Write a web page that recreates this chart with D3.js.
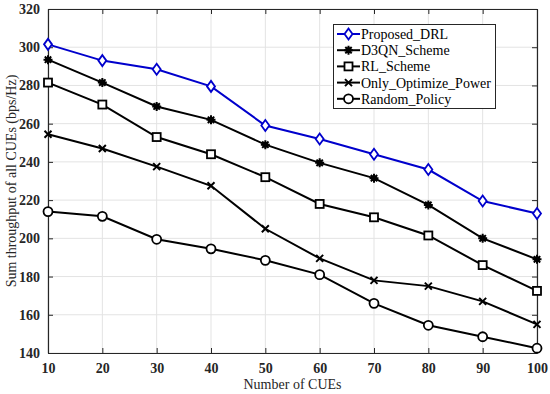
<!DOCTYPE html>
<html>
<head>
<meta charset="utf-8">
<script src="https://cdnjs.cloudflare.com/ajax/libs/d3/7.8.5/d3.min.js"></script>
<style>
  body { margin: 0; background: #fff; }
  svg text { font-family: "Liberation Serif", "Times New Roman", serif; }
</style>
</head>
<body>
<script>
var width = 550, height = 394;
var margin = {top: 9, right: 13, bottom: 41, left: 48};

var cues = [10, 20, 30, 40, 50, 60, 70, 80, 90, 100];
var proposed = [301.5, 293, 288.5, 279.5, 259, 252, 244, 236, 219.5, 213];
var d3qn = [293.5, 281.5, 269, 262, 249, 239.5, 231.5, 217.5, 200, 189];
var rl = [281.5, 270, 253, 244, 232, 218, 211, 201.5, 186, 172.5];
var onlyPower = [254.5, 247, 237.5, 227.5, 205, 189.5, 178, 175, 167, 155];
var randomPolicy = [214, 211.5, 199.5, 194.5, 188.5, 181, 166, 154.5, 148.5, 142.5];
var yTicks = [140, 160, 180, 200, 220, 240, 260, 280, 300, 320];

var series = [
  {name: "Proposed_DRL", values: proposed, color: "#0000cc", marker: "diamond"},
  {name: "D3QN_Scheme", values: d3qn, color: "#000", marker: "star"},
  {name: "RL_Scheme", values: rl, color: "#000", marker: "square"},
  {name: "Only_Optimize_Power", values: onlyPower, color: "#000", marker: "cross"},
  {name: "Random_Policy", values: randomPolicy, color: "#000", marker: "circle"}
];

var svg = d3.select("body").append("svg")
    .attr("width", width)
    .attr("height", height);

var x = d3.scaleLinear().domain([10, 100]).range([margin.left, width - margin.right]);
var y = d3.scaleLinear().domain([140, 320]).range([height - margin.bottom, margin.top]);

var x0 = margin.left, x1 = width - margin.right, y0 = height - margin.bottom, y1 = margin.top;

// grid
var grid = svg.append("g").attr("stroke", "#e3e3e3").attr("stroke-width", 1);
cues.forEach(function(v) {
  grid.append("line").attr("x1", x(v)).attr("x2", x(v)).attr("y1", y0).attr("y2", y1);
});
yTicks.forEach(function(v) {
  grid.append("line").attr("x1", x0).attr("x2", x1).attr("y1", y(v)).attr("y2", y(v));
});

// axes
var xAxis = svg.append("g").attr("transform", "translate(0," + y0 + ")")
    .call(d3.axisBottom(x).tickValues(cues).tickSizeInner(-5).tickSizeOuter(0).tickPadding(10));
var yAxis = svg.append("g").attr("transform", "translate(" + x0 + ",0)")
    .call(d3.axisLeft(y).tickValues(yTicks).tickSizeInner(-5).tickSizeOuter(0).tickPadding(8));
var xTop = svg.append("g").attr("transform", "translate(0," + y1 + ")")
    .call(d3.axisTop(x).tickValues(cues).tickSizeInner(-5).tickSizeOuter(0).tickFormat(""));
var yRight = svg.append("g").attr("transform", "translate(" + x1 + ",0)")
    .call(d3.axisRight(y).tickValues(yTicks).tickSizeInner(-5).tickSizeOuter(0).tickFormat(""));

[xAxis, yAxis, xTop, yRight].forEach(function(a) {
  a.select(".domain").attr("stroke", "#262626").attr("stroke-width", 1.2);
  a.selectAll(".tick line").attr("stroke", "#262626");
  a.selectAll(".tick text").attr("font-family", "Liberation Serif").attr("font-size", 14)
    .attr("font-weight", "bold").attr("fill", "#262626");
});

// lines
var line = d3.line().x(function(d, i) { return x(cues[i]); }).y(function(d) { return y(d); });

function drawMarker(g, type, cx, cy, color) {
  if (type == "diamond") {
    g.append("path").attr("d", "M" + cx + "," + (cy - 5.5) + "L" + (cx + 4) + "," + cy + "L" + cx + "," + (cy + 5.5) + "L" + (cx - 4) + "," + cy + "Z")
      .attr("fill", "#fff").attr("stroke", color).attr("stroke-width", 1.8);
  }
  if (type == "square") {
    g.append("rect").attr("x", cx - 4).attr("y", cy - 4).attr("width", 8).attr("height", 8)
      .attr("fill", "#fff").attr("stroke", color).attr("stroke-width", 1.8);
  }
  if (type == "circle") {
    g.append("circle").attr("cx", cx).attr("cy", cy).attr("r", 4.5)
      .attr("fill", "#fff").attr("stroke", color).attr("stroke-width", 1.8);
  }
  if (type == "cross") {
    g.append("path").attr("d", "M" + (cx - 3.5) + "," + (cy - 3.5) + "L" + (cx + 3.5) + "," + (cy + 3.5) + "M" + (cx + 3.5) + "," + (cy - 3.5) + "L" + (cx - 3.5) + "," + (cy + 3.5))
      .attr("stroke", color).attr("stroke-width", 2);
  }
  if (type == "star") {
    g.append("path").attr("d", "M" + (cx - 4.5) + "," + cy + "L" + (cx + 4.5) + "," + cy + "M" + cx + "," + (cy - 4.5) + "L" + cx + "," + (cy + 4.5)
      + "M" + (cx - 3.2) + "," + (cy - 3.2) + "L" + (cx + 3.2) + "," + (cy + 3.2) + "M" + (cx + 3.2) + "," + (cy - 3.2) + "L" + (cx - 3.2) + "," + (cy + 3.2))
      .attr("stroke", color).attr("stroke-width", 2);
    g.append("circle").attr("cx", cx).attr("cy", cy).attr("r", 3).attr("fill", color);
  }
}

series.slice().reverse().forEach(function(s) {
  svg.append("path").datum(s.values)
    .attr("d", line).attr("fill", "none").attr("stroke", s.color).attr("stroke-width", 2);
  var g = svg.append("g");
  s.values.forEach(function(v, i) { drawMarker(g, s.marker, x(cues[i]), y(v), s.color); });
});

// axis titles
svg.append("text").attr("x", (x0 + x1) / 2).attr("y", 389).attr("text-anchor", "middle")
  .attr("font-size", 14).attr("fill", "#262626").text("Number of CUEs");
svg.append("text").attr("transform", "translate(16," + ((y0 + y1) / 2) + ") rotate(-90)")
  .attr("text-anchor", "middle").attr("font-size", 14).attr("fill", "#262626")
  .text("Sum throughput of all CUEs (bps/Hz)");

// legend
var lg = svg.append("g");
lg.append("rect").attr("x", 333.5).attr("y", 24.5).attr("width", 162).attr("height", 84)
  .attr("fill", "#fff").attr("stroke", "#262626").attr("stroke-width", 1);
series.forEach(function(s, i) {
  var ly = 34 + i * 16.2;
  lg.append("line").attr("x1", 337).attr("x2", 360).attr("y1", ly).attr("y2", ly)
    .attr("stroke", s.color).attr("stroke-width", 2);
  drawMarker(lg, s.marker, 348.5, ly, s.color);
  lg.append("text").attr("x", 361).attr("y", ly + 5).attr("font-size", 14).attr("fill", "#000").text(s.name);
});
</script>
</body>
</html>
